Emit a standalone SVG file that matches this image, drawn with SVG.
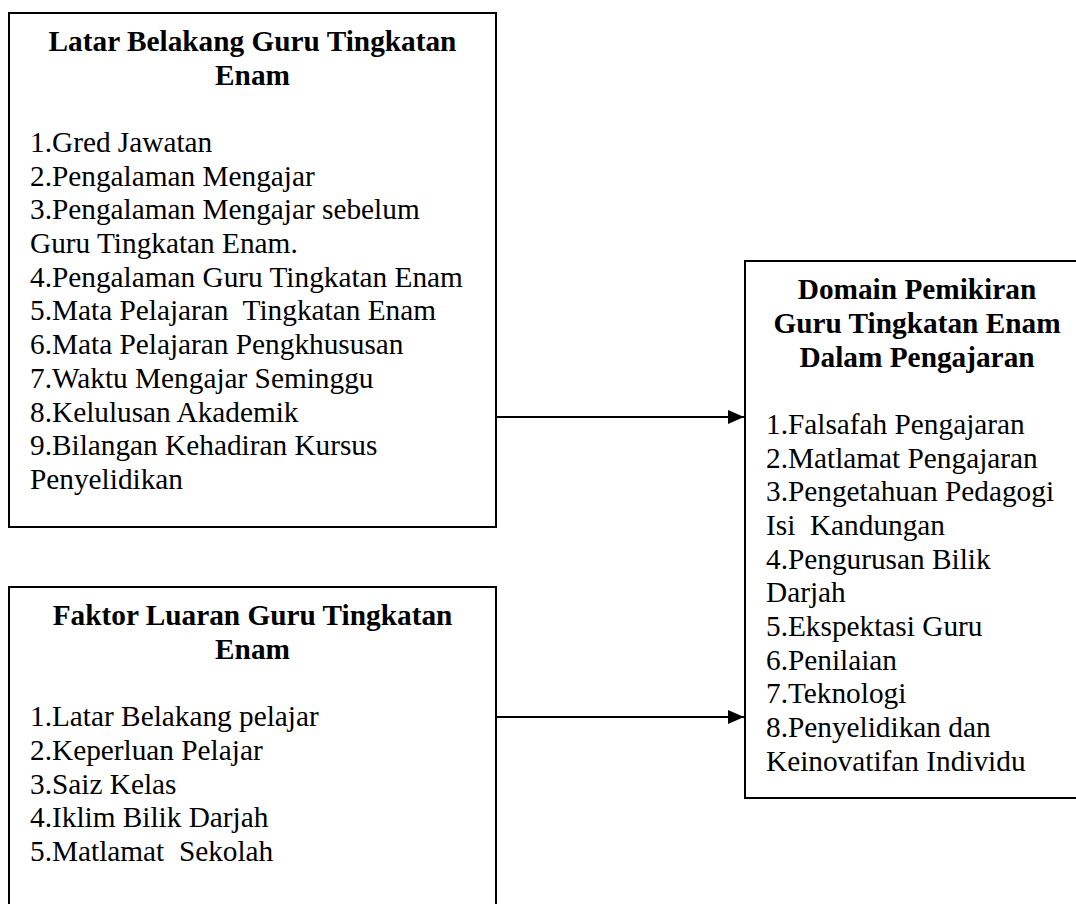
<svg xmlns="http://www.w3.org/2000/svg" width="1076" height="904" viewBox="0 0 1076 904">
<style>
text { font-family: "Liberation Serif", "Times New Roman", serif; font-size: 29.3px; fill: #000; white-space: pre; }
.t { font-weight: bold; text-anchor: middle; }
.box { fill: #fff; stroke: #000; stroke-width: 2; }
.edge { stroke: #000; stroke-width: 2.2; fill: none; }
</style>
<defs>
<marker id="arr" markerWidth="16" markerHeight="14" refX="16" refY="7" orient="auto" markerUnits="userSpaceOnUse">
<path d="M0,0 L16,7 L0,14 Z" fill="#000"/>
</marker>
</defs>
<rect width="1076" height="904" fill="#fff"/>
<g id="node-latar">
<rect class="box" x="9" y="13" width="487" height="514"/>
<text class="t" x="252.5" y="51">Latar Belakang Guru Tingkatan</text>
<text class="t" x="252.5" y="85">Enam</text>
<text x="30" y="152">1.Gred Jawatan</text>
<text x="30" y="186">2.Pengalaman Mengajar</text>
<text x="30" y="219">3.Pengalaman Mengajar sebelum</text>
<text x="30" y="253">Guru Tingkatan Enam.</text>
<text x="30" y="287">4.Pengalaman Guru Tingkatan Enam</text>
<text x="30" y="320">5.Mata Pelajaran  Tingkatan Enam</text>
<text x="30" y="354">6.Mata Pelajaran Pengkhususan</text>
<text x="30" y="388">7.Waktu Mengajar Seminggu</text>
<text x="30" y="422">8.Kelulusan Akademik</text>
<text x="30" y="455">9.Bilangan Kehadiran Kursus</text>
<text x="30" y="489">Penyelidikan</text>
</g>
<g id="node-faktor">
<rect class="box" x="9" y="587" width="487" height="340"/>
<text class="t" x="252.5" y="625">Faktor Luaran Guru Tingkatan</text>
<text class="t" x="252.5" y="659">Enam</text>
<text x="30" y="726">1.Latar Belakang pelajar</text>
<text x="30" y="760">2.Keperluan Pelajar</text>
<text x="30" y="794">3.Saiz Kelas</text>
<text x="30" y="827">4.Iklim Bilik Darjah</text>
<text x="30" y="861">5.Matlamat  Sekolah</text>
</g>
<g id="node-domain">
<rect class="box" x="745" y="261" width="350" height="537"/>
<text class="t" x="917" y="299">Domain Pemikiran</text>
<text class="t" x="917" y="333">Guru Tingkatan Enam</text>
<text class="t" x="917" y="367">Dalam Pengajaran</text>
<text x="766" y="434">1.Falsafah Pengajaran</text>
<text x="766" y="468">2.Matlamat Pengajaran</text>
<text x="766" y="501">3.Pengetahuan Pedagogi</text>
<text x="766" y="535">Isi  Kandungan</text>
<text x="766" y="569">4.Pengurusan Bilik</text>
<text x="766" y="602">Darjah</text>
<text x="766" y="636">5.Ekspektasi Guru</text>
<text x="766" y="670">6.Penilaian</text>
<text x="766" y="703">7.Teknologi</text>
<text x="766" y="737">8.Penyelidikan dan</text>
<text x="766" y="771">Keinovatifan Individu</text>
</g>
<g id="connectors">
<line class="edge" x1="496" y1="417" x2="744" y2="417" marker-end="url(#arr)"/>
<line class="edge" x1="496" y1="717" x2="744" y2="717" marker-end="url(#arr)"/>
</g>
</svg>
